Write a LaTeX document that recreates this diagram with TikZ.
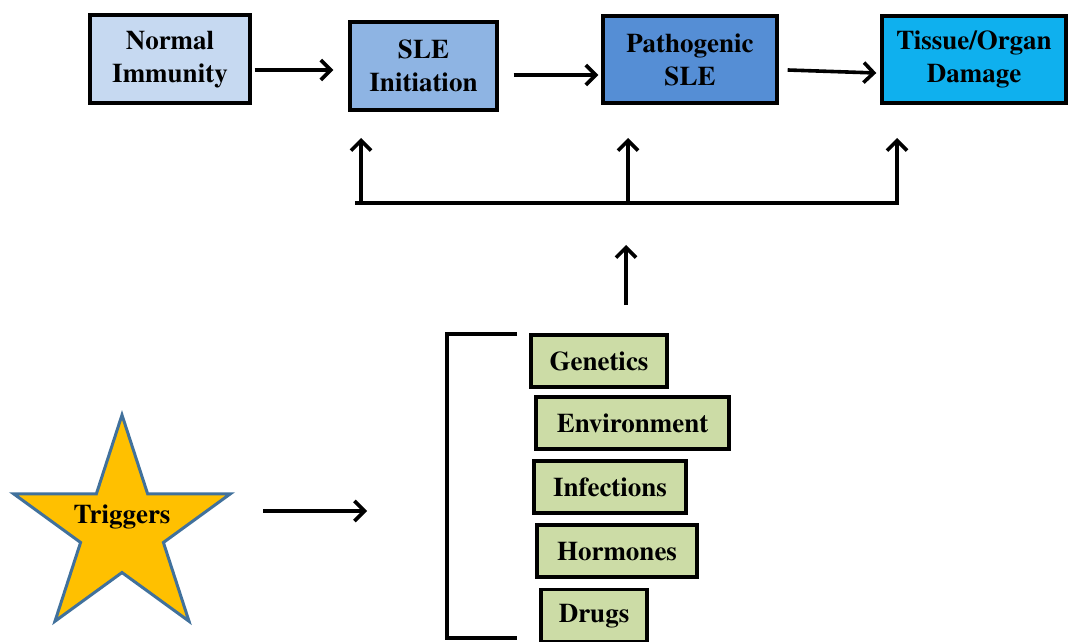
\documentclass[tikz,border=0pt]{standalone}
\usepackage[T1]{fontenc}
\usepackage{times}
\usetikzlibrary{arrows.meta,shapes.geometric}
\definecolor{normalblue}{HTML}{C6D9F1}
\definecolor{initblue}{HTML}{8EB4E3}
\definecolor{pathblue}{HTML}{558ED5}
\definecolor{damagecyan}{HTML}{0FB0EE}
\definecolor{factorgreen}{HTML}{CCDCA6}
\definecolor{stargold}{HTML}{FFC000}
\definecolor{starrim}{HTML}{41719C}
\tikzset{
	boxtext/.style = {align=center, inner sep=0pt, text centered, font=\fontsize{13.5}{16.5}\selectfont\bfseries},
	stage/.style = {boxtext, rectangle, draw=black, line width=1.7pt},
	factor/.style = {boxtext, rectangle, draw=black, line width=1.7pt, fill=factorgreen, minimum height=26pt},
	trigger/.style = {star, star points=5, star point ratio=2.618, draw=starrim, fill=stargold, line width=1.5pt, minimum size=114pt, inner sep=0pt},
	link/.style = {line width=1.8pt},
	arr/.style = {link, -{Straight Barb[length=5pt,width=10pt]}}
}

\begin{document}
\begin{tikzpicture}[x=0.5pt, y=-0.5pt]
\useasboundingbox (0,0) rectangle (1072,642);

\node [stage, fill=normalblue, minimum width=80pt, minimum height=44pt] (normal) at (170,59) {Normal\\Immunity};
\node [stage, fill=initblue, minimum width=73.5pt, minimum height=44pt] (init) at (423.5,66) {SLE\\Initiation};
\node [stage, fill=pathblue, minimum width=87pt, minimum height=43.5pt] (patho) at (690,59.5) {Pathogenic\\SLE};
\node [stage, fill=damagecyan, minimum width=92pt, minimum height=43.5pt] (damage) at (974,59.5) {Tissue/Organ\\Damage};

\draw [arr] ([shift={(3,11)}]normal.east) -- ([shift={(-15,4)}]init.west);
\draw [arr] ([shift={(15,9)}]init.east) -- ([shift={(-3,15.5)}]patho.west);
\draw [arr] ([shift={(9,10.5)}]patho.east) -- ([shift={(-4,13.5)}]damage.west);

\coordinate (fbleft) at (361,203);
\coordinate (fbmid) at (628,203);
\coordinate (fbright) at (897,203);
\coordinate (fbin) at (626,305);
\draw [link] ([xshift=-3]fbleft) -- ([xshift=1]fbright);
\draw [arr] (fbleft) -- ++(0,-65);
\draw [arr] (fbmid) -- ++(0,-65);
\draw [arr] (fbright) -- ++(0,-65);
\draw [arr] (fbin) -- ++(0,-60);

\node [factor, minimum width=68pt] (genetics) at (599,361) {Genetics};
\node [factor, minimum width=96.5pt] (environ) at (632.5,423) {Environment};
\node [factor, minimum width=76pt] (infect) at (610,487) {Infections};
\node [factor, minimum width=80pt] (hormone) at (617,551) {Hormones};
\node [factor, minimum width=53pt] (drugs) at (594,615.5) {Drugs};

\coordinate (brtop) at (517,334);
\coordinate (brbot) at (517,638);
\draw [link] (brtop) -- (447,334) -- (447,638) -- (brbot);

\node [trigger] (trig) at (122,529) {};
\node [boxtext] (triglabel) at (122,517) {Triggers};
\draw [arr] ([shift={(141,-18)}]trig.center) -- ++(104,0);
\end{tikzpicture}
\end{document}
